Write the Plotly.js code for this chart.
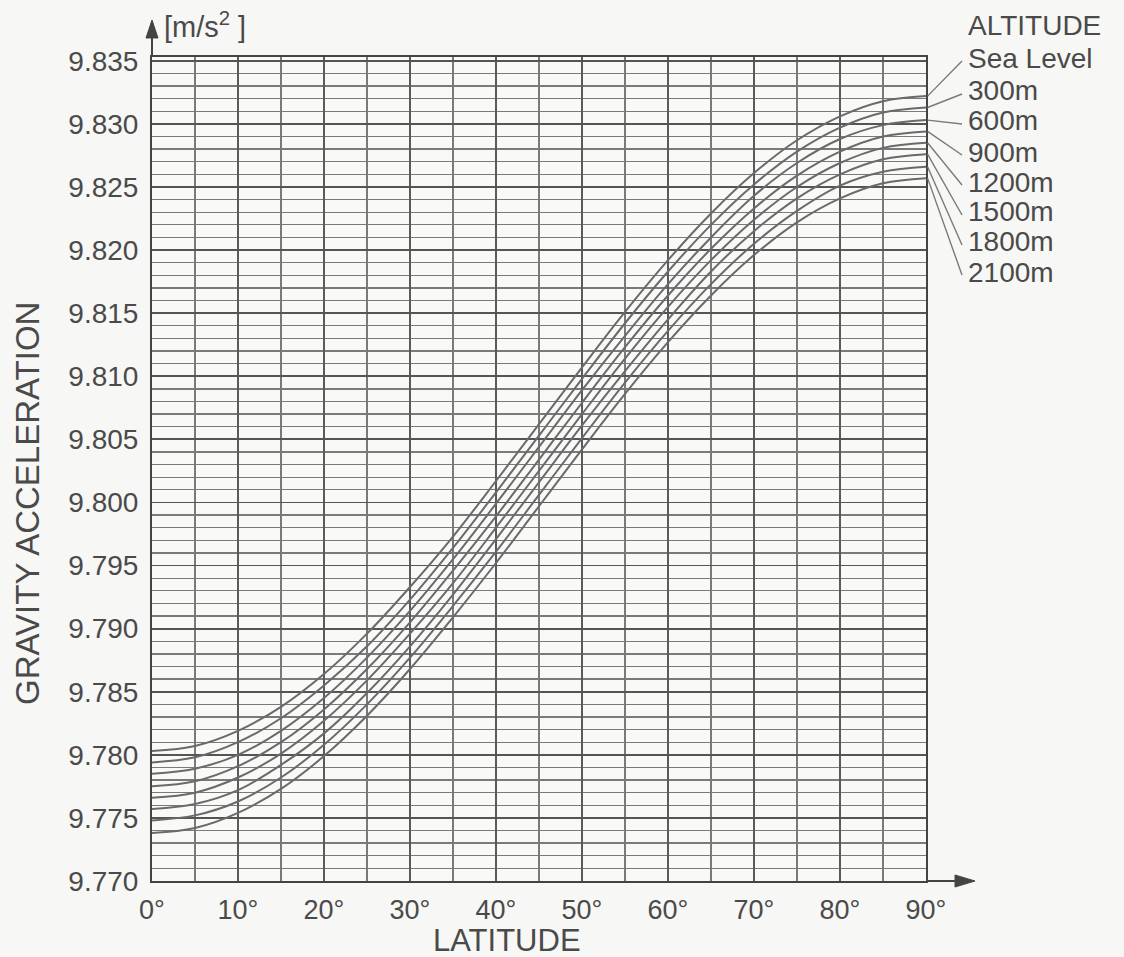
<!DOCTYPE html>
<html>
<head>
<meta charset="utf-8">
<script src="https://cdn.plot.ly/plotly-3.0.1.min.js"></script>
<style>
  html, body { margin: 0; padding: 0; background: #f7f7f5; }
  #chart { width: 1124px; height: 957px; }
</style>
</head>
<body>
<div id="chart"></div>
<script>
// ---- data ----
const latitude = [0, 5, 10, 15, 20, 25, 30, 35, 40, 45, 50, 55, 60, 65, 70, 75, 80, 85, 90];

const seaLevel = [9.7803, 9.7807, 9.7819, 9.7838, 9.7864, 9.7896, 9.7933, 9.7973, 9.8017, 9.8062, 9.8107, 9.8151, 9.8192, 9.8229, 9.8261, 9.8287, 9.8306, 9.8318, 9.8322];
const alt300  = [9.7794, 9.7798, 9.7810, 9.7829, 9.7855, 9.7886, 9.7923, 9.7964, 9.8008, 9.8053, 9.8098, 9.8142, 9.8183, 9.8220, 9.8252, 9.8278, 9.8297, 9.8309, 9.8313];
const alt600  = [9.7785, 9.7789, 9.7800, 9.7819, 9.7845, 9.7877, 9.7914, 9.7955, 9.7999, 9.8044, 9.8089, 9.8132, 9.8173, 9.8210, 9.8243, 9.8269, 9.8288, 9.8299, 9.8303];
const alt900  = [9.7775, 9.7779, 9.7791, 9.7810, 9.7836, 9.7868, 9.7905, 9.7946, 9.7989, 9.8034, 9.8079, 9.8123, 9.8164, 9.8201, 9.8233, 9.8259, 9.8278, 9.8290, 9.8294];
const alt1200 = [9.7766, 9.7770, 9.7782, 9.7801, 9.7827, 9.7859, 9.7896, 9.7936, 9.7980, 9.8025, 9.8070, 9.8114, 9.8155, 9.8192, 9.8224, 9.8250, 9.8269, 9.8281, 9.8285];
const alt1500 = [9.7757, 9.7761, 9.7772, 9.7792, 9.7817, 9.7849, 9.7886, 9.7927, 9.7971, 9.8016, 9.8061, 9.8104, 9.8145, 9.8183, 9.8215, 9.8241, 9.8260, 9.8272, 9.8276];
const alt1800 = [9.7748, 9.7752, 9.7763, 9.7782, 9.7808, 9.7840, 9.7877, 9.7918, 9.7961, 9.8006, 9.8051, 9.8095, 9.8136, 9.8173, 9.8205, 9.8231, 9.8251, 9.8262, 9.8266];
const alt2100 = [9.7738, 9.7742, 9.7754, 9.7773, 9.7799, 9.7831, 9.7868, 9.7909, 9.7952, 9.7997, 9.8042, 9.8086, 9.8127, 9.8164, 9.8196, 9.8222, 9.8241, 9.8253, 9.8257];

const seriesNames = ["Sea Level", "300m", "600m", "900m", "1200m", "1500m", "1800m", "2100m"];
const seriesValues = [seaLevel, alt300, alt600, alt900, alt1200, alt1500, alt1800, alt2100];

const xTickValues = [0, 10, 20, 30, 40, 50, 60, 70, 80, 90];
const xTickLabels = ["0°", "10°", "20°", "30°", "40°", "50°", "60°", "70°", "80°", "90°"];
const yTickValues = [9.770, 9.775, 9.780, 9.785, 9.790, 9.795, 9.800, 9.805, 9.810, 9.815, 9.820, 9.825, 9.830, 9.835];
const yTickLabels = ["9.770", "9.775", "9.780", "9.785", "9.790", "9.795", "9.800", "9.805", "9.810", "9.815", "9.820", "9.825", "9.830", "9.835"];

const legendTitle = "ALTITUDE";

// ---- layout helpers ----
const W = 1124, H = 957;
const M = { l: 152, r: 198, t: 57, b: 76 };
const PW = W - M.l - M.r, PH = H - M.t - M.b;
const px2paperX = px => (px - M.l) / PW;
const py2paperY = py => (H - M.b - py) / PH;
const Y_RANGE = [9.770, 9.8353];
const val2paperY = v => (v - Y_RANGE[0]) / (Y_RANGE[1] - Y_RANGE[0]);

const FONT = "Liberation Sans, Arial, Helvetica, sans-serif";
const TXT = "#4a4a4a";
const CURVE = "#6a6a6a";
const AX = "#444";

const traces = seriesValues.map((vals, i) => ({
  type: "scatter",
  mode: "lines",
  name: seriesNames[i],
  x: latitude,
  y: vals,
  line: { color: CURVE, width: 2, shape: "spline", smoothing: 1 },
  hoverinfo: "x+y+name"
}));

// legend label rows (pixel rows on the right)
const labelRowsPx = [58, 91, 121, 152, 182, 212, 242, 272];
const labelX = 966;

const annotations = [];
const shapes = [];

annotations.push({
  xref: "paper", yref: "paper", x: px2paperX(labelX), y: py2paperY(25),
  xanchor: "left", yanchor: "middle", showarrow: false, text: legendTitle,
  font: { family: FONT, size: 28, color: TXT }
});

seriesNames.forEach((nm, i) => {
  const vals = seriesValues[i];
  const endVal = vals[vals.length - 1];
  annotations.push({
    xref: "paper", yref: "paper", x: px2paperX(labelX), y: py2paperY(labelRowsPx[i]),
    xanchor: "left", yanchor: "middle", showarrow: false, text: nm,
    font: { family: FONT, size: 28, color: TXT }
  });
  // leader line from the curve end to its label
  shapes.push({
    type: "line", xref: "paper", yref: "paper",
    x0: 1.002, y0: val2paperY(endVal),
    x1: px2paperX(labelX - 4), y1: py2paperY(labelRowsPx[i] + 3),
    line: { color: "#7a7a7a", width: 1.4 }
  });
});

// axis titles and unit
annotations.push({
  xref: "paper", yref: "paper", x: px2paperX(27), y: py2paperY(504),
  xanchor: "center", yanchor: "middle", showarrow: false, textangle: -90,
  text: "GRAVITY ACCELERATION", font: { family: FONT, size: 33, color: TXT }
});
annotations.push({
  xref: "paper", yref: "paper", x: px2paperX(507), y: py2paperY(940),
  xanchor: "center", yanchor: "middle", showarrow: false,
  text: "LATITUDE", font: { family: FONT, size: 31, color: TXT }
});
annotations.push({
  xref: "paper", yref: "paper", x: px2paperX(162), y: py2paperY(25),
  xanchor: "left", yanchor: "middle", showarrow: false,
  text: "[m/s<sup>2</sup> ]", font: { family: FONT, size: 29, color: TXT }
});

// axis arrows drawn as shapes (line + filled head)
const yTip = py2paperY(20);
shapes.push({ type: "line", xref: "paper", yref: "paper", x0: 0, y0: 1, x1: 0, y1: py2paperY(36), line: { color: AX, width: 2 } });
{
  const x0 = px2paperX(M.l - 6), x1 = px2paperX(M.l + 6), yb = py2paperY(38);
  shapes.push({ type: "path", xref: "paper", yref: "paper",
    path: `M ${x0} ${yb} L ${x1} ${yb} L 0 ${yTip} Z`, fillcolor: AX, line: { color: AX, width: 1 } });
}
const xTip = px2paperX(975);
shapes.push({ type: "line", xref: "paper", yref: "paper", x0: 1, y0: 0, x1: px2paperX(958), y1: 0, line: { color: AX, width: 2 } });
{
  const xb = px2paperX(955), ya = py2paperY(H - M.b - 6), yb2 = py2paperY(H - M.b + 6);
  shapes.push({ type: "path", xref: "paper", yref: "paper",
    path: `M ${xb} ${ya} L ${xb} ${yb2} L ${xTip} 0 Z`, fillcolor: AX, line: { color: AX, width: 1 } });
}

const layout = {
  width: W, height: H,
  margin: M,
  paper_bgcolor: "#f7f7f5",
  plot_bgcolor: "#f9f9f8",
  showlegend: false,
  font: { family: FONT, color: TXT },
  xaxis: {
    range: [0, 90],
    tickmode: "array", tickvals: xTickValues, ticktext: xTickLabels,
    tickfont: { family: FONT, size: 27, color: TXT },
    showgrid: true, gridcolor: "#5a5a5a", gridwidth: 1.6,
    minor: { dtick: 5, showgrid: true, gridcolor: "#7a7a7a", gridwidth: 1.3, ticks: "" },
    showline: true, linecolor: AX, linewidth: 2, mirror: true,
    ticks: "outside", ticklen: 4, tickcolor: "rgba(0,0,0,0)",
    zeroline: false, fixedrange: true
  },
  yaxis: {
    range: Y_RANGE,
    tickmode: "array", tickvals: yTickValues, ticktext: yTickLabels,
    tickfont: { family: FONT, size: 28, color: TXT },
    showgrid: true, gridcolor: "#555", gridwidth: 1.8,
    minor: { tickmode: "linear", tick0: 9.770, dtick: 0.001, showgrid: true, gridcolor: "#7a7a7a", gridwidth: 1.3, ticks: "" },
    showline: true, linecolor: AX, linewidth: 2, mirror: true,
    ticks: "outside", ticklen: 6, tickcolor: "rgba(0,0,0,0)",
    zeroline: false, fixedrange: true
  },
  annotations: annotations,
  shapes: shapes
};

Plotly.newPlot("chart", traces, layout, { displayModeBar: false, staticPlot: true });
</script>
</body>
</html>
